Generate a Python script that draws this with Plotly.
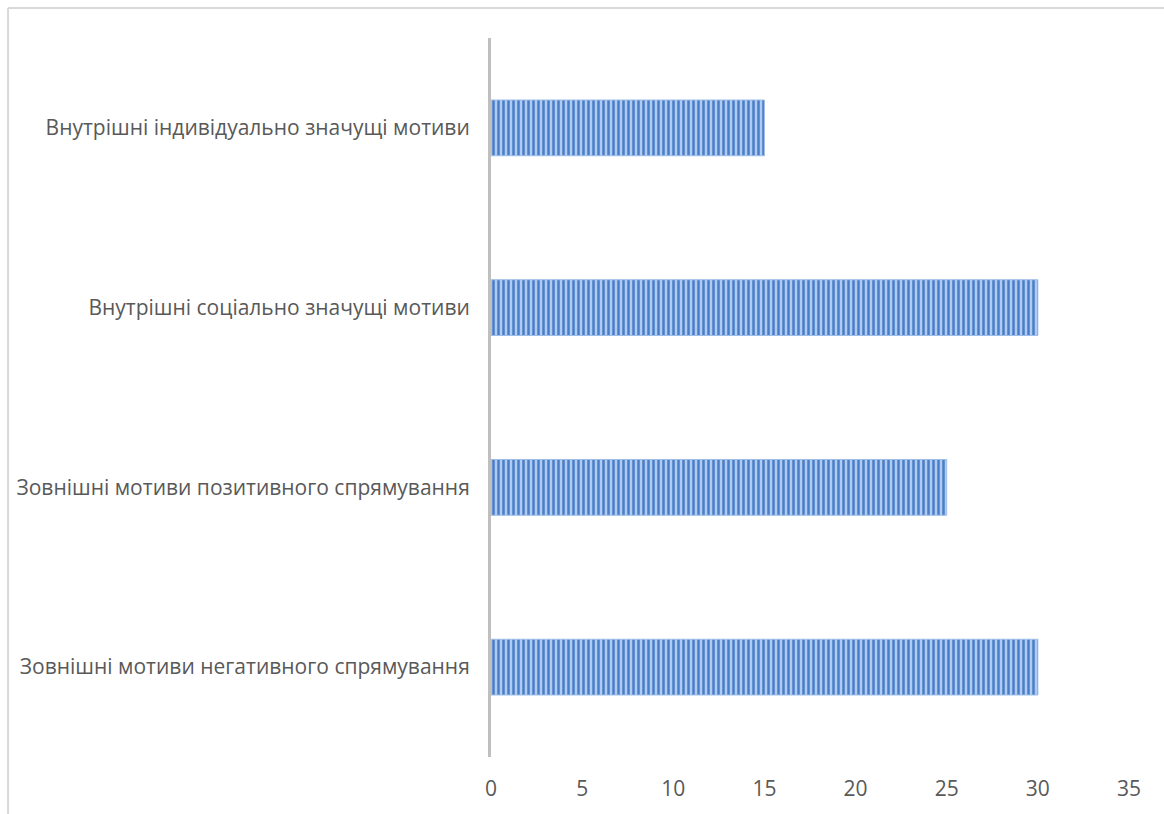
import plotly.graph_objects as go

# Motive categories (bottom to top) and their scores
categories = [
    "Зовнішні мотиви негативного спрямування",
    "Зовнішні мотиви позитивного спрямування",
    "Внутрішні соціально значущі мотиви",
    "Внутрішні індивідуально значущі мотиви",
]
values = [30, 25, 30, 15]
x_ticks = [0, 5, 10, 15, 20, 25, 30, 35]

fig = go.Figure(
    go.Bar(
        x=values,
        y=categories,
        orientation="h",
        marker=dict(
            color="#a9c6ee",
            line=dict(color="#9dbde8", width=1),
            pattern=dict(
                shape="|",
                fgcolor="#4a7dc8",
                bgcolor="#b0cbf0",
                fgopacity=1,
                size=5,
                solidity=0.5,
                fillmode="replace",
            ),
        ),
        hoverinfo="x+y",
    )
)

font_family = "'Open Sans', 'Noto Sans', sans-serif"

fig.update_layout(
    width=1164,
    height=814,
    margin=dict(l=491, r=35, t=38, b=55),
    paper_bgcolor="white",
    plot_bgcolor="white",
    bargap=0.69,
    showlegend=False,
    font=dict(family=font_family, size=21, color="#595959"),
    xaxis=dict(
        range=[0, 35],
        tickvals=x_ticks,
        showgrid=False,
        zeroline=False,
        showline=False,
        ticks="",
        ticklabelstandoff=17,
        tickfont=dict(size=21, color="#595959"),
        fixedrange=True,
    ),
    yaxis=dict(
        categoryorder="array",
        categoryarray=categories,
        showgrid=False,
        zeroline=False,
        showline=True,
        linecolor="#bfbfbf",
        linewidth=3,
        ticks="",
        ticklabelstandoff=14,
        tickfont=dict(size=21, color="#595959"),
        fixedrange=True,
    ),
    shapes=[
        # light frame around the chart area (top and left edges)
        dict(type="line", xref="paper", yref="paper",
             x0=-0.757, x1=1.1, y0=1.0416, y1=1.0416,
             line=dict(color="#d9d9d9", width=2)),
        dict(type="line", xref="paper", yref="paper",
             x0=-0.757, x1=-0.757, y0=1.0416, y1=-0.1,
             line=dict(color="#d9d9d9", width=2)),
    ],
)

fig.write_html("out.html")
